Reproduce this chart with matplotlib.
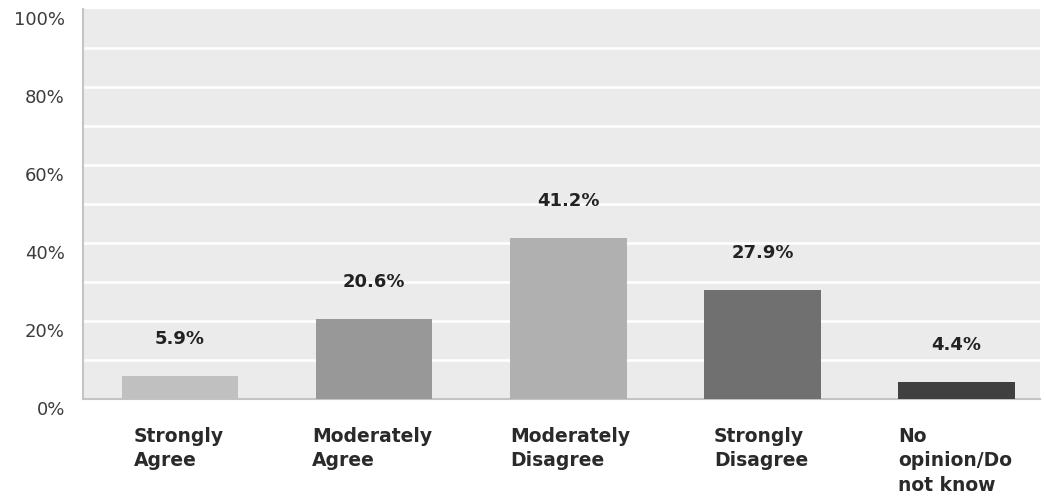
import matplotlib
matplotlib.use("Agg")
import matplotlib.pyplot as plt
import matplotlib.transforms as mtransforms
import numpy as np

categories = ["Strongly\nAgree", "Moderately\nAgree", "Moderately\nDisagree",
              "Strongly\nDisagree", "No\nopinion/Do\nnot know"]
values = [5.9, 20.6, 41.2, 27.9, 4.4]
value_labels = ["5.9%", "20.6%", "41.2%", "27.9%", "4.4%"]
ytick_values = [0, 20, 40, 60, 80, 100]
ytick_labels = ["0%", "20%", "40%", "60%", "80%", "100%"]

bar_colors = ["#c0c0c0", "#989898", "#b0b0b0", "#707070", "#404040"]
label_nudge = [0.06, -0.02, 0.0, 0.05, 0.0]  # layout tweak, in category units

DPI = 100
fig = plt.figure(figsize=(10.46, 4.97), dpi=DPI)
ax = fig.add_axes([83/1046, 1 - 399/497, (1040 - 83)/1046, (399 - 9)/497])

ax.set_facecolor("#ebebeb")
x = np.arange(len(categories))
width = 0.6
ax.bar(x, values, width=width, color=bar_colors, zorder=3)

ax.set_xlim(-0.5, 4.43)
ax.set_ylim(0, 100)

# white gridlines every 10%
for g in range(10, 100, 10):
    ax.axhline(g, color="white", lw=1.8, zorder=1)

for s in ["top", "right"]:
    ax.spines[s].set_visible(False)
ax.spines["left"].set_color("#c4c4c4")
ax.spines["left"].set_linewidth(1.5)
ax.spines["bottom"].set_color("#c4c4c4")
ax.spines["bottom"].set_linewidth(1.5)

ax.set_xticks([])
ax.set_yticks(ytick_values)
ax.set_yticklabels(ytick_labels, fontsize=13, color="#3c3c3c", family="DejaVu Sans")
ax.tick_params(axis="y", length=0, pad=13)
# y labels sit slightly below their gridlines
offset = mtransforms.ScaledTranslation(0, -9 / DPI, fig.dpi_scale_trans)
for lab in ax.get_yticklabels():
    lab.set_transform(lab.get_transform() + offset)

# value labels above bars
for xi, v, t in zip(x, values, value_labels):
    ax.annotate(t, xy=(xi, v), xytext=(0, 37 * 72 / DPI), textcoords="offset points",
                ha="center", va="center", fontsize=13, fontweight="bold",
                color="#222222", family="DejaVu Sans")

# category labels below axis, left aligned near bar left edge
trans = mtransforms.blended_transform_factory(ax.transData, ax.transAxes)
for xi, c, n in zip(x, categories, label_nudge):
    ax.annotate(c, xy=(xi - width / 2 + n, 0), xycoords=trans,
                xytext=(0, -28 * 72 / DPI), textcoords="offset points",
                ha="left", va="top", fontsize=13.5, fontweight="bold",
                color="#2a2a2a", linespacing=1.36, family="DejaVu Sans",
                annotation_clip=False)

fig.savefig("out.png", dpi=DPI)
